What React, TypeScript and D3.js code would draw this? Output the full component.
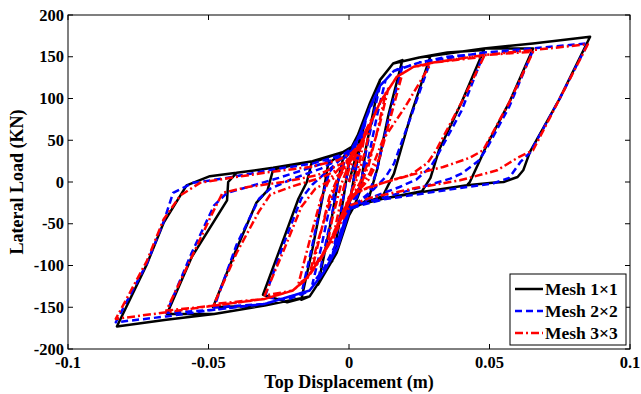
import React from "react";
import * as d3 from "d3";

type Pt = [number, number];

// displacement (m), lateral load (kN)
const mesh1: Pt[] = [
  [0, 0], [0.002, 25], [0.004, 55], [0.006, 80],
  [0.004, 45], [0.002, 10], [0, -30], [-0.003, -65], [-0.006, -95],
  [-0.004, -60], [-0.002, -20], [0, 25], [0.003, 55], [0.0075, 95], [0.011, 122],
  [0.009, 90], [0.006, 40], [0.004, -10], [0.002, -28], [0, -40], [-0.0044, -85], [-0.0093, -113], [-0.011, -123],
  [-0.009, -90], [-0.006, -40], [-0.004, 0], [-0.002, 30], [0.001, 42], [0.004, 62], [0.0075, 95], [0.011, 122], [0.0157, 142], [0.019, 146],
  [0.014, 80], [0.01, 15], [0.007, -20], [0.004, -27], [0.0004, -33], [-0.0044, -85], [-0.0093, -113], [-0.014, -137], [-0.017, -141],
  [-0.013, -80], [-0.0095, -20], [-0.0074, 22], [-0.002, 36], [0.001, 42], [0.004, 62], [0.0075, 95], [0.011, 122], [0.0157, 142], [0.025, 149], [0.029, 151],
  [0.022, 80], [0.016, 10], [0.012, -17], [0.004, -27], [0.0004, -33], [-0.0044, -85], [-0.0093, -113], [-0.014, -137], [-0.022, -144], [-0.0306, -135],
  [-0.024, -75], [-0.018, -20], [-0.015, 0], [-0.0133, 23], [-0.002, 36], [0.001, 42], [0.004, 62], [0.0075, 95], [0.011, 122], [0.0157, 142], [0.025, 149], [0.035, 155], [0.048, 158],
  [0.04, 95], [0.032, 38], [0.029, 5], [0.026, -11], [0.012, -20], [0.004, -27], [0.0004, -33], [-0.0044, -85], [-0.0093, -113], [-0.014, -137], [-0.03, -148], [-0.0484, -150],
  [-0.04, -80], [-0.033, -25], [-0.029, -10], [-0.027, 15], [-0.013, 25], [-0.002, 36], [0.001, 42], [0.004, 62], [0.0075, 95], [0.011, 122], [0.0157, 142], [0.025, 149], [0.048, 160], [0.0655, 160],
  [0.057, 95], [0.049, 44], [0.0466, 26], [0.043, 0], [0.042, -4], [0.026, -12], [0.012, -20], [0.004, -27], [0.0004, -33], [-0.0044, -85], [-0.0093, -113], [-0.014, -137], [-0.03, -148], [-0.048, -158], [-0.0648, -158],
  [-0.056, -90], [-0.0434, -22], [-0.043, 0], [-0.04, 11], [-0.027, 17], [-0.013, 25], [-0.002, 36], [0.001, 42], [0.004, 62], [0.0075, 95], [0.011, 122], [0.0157, 142], [0.025, 149], [0.048, 160], [0.0655, 166], [0.0858, 174],
  [0.075, 100], [0.0644, 36], [0.062, 14], [0.06, 6], [0.055, 0], [0.051, -1], [0.042, -4], [0.026, -12], [0.012, -20], [0.004, -27], [0.0004, -33], [-0.0044, -85], [-0.0093, -113], [-0.014, -137], [-0.03, -148], [-0.048, -158], [-0.065, -165], [-0.0826, -173],
  [-0.072, -99], [-0.066, -49], [-0.0578, -4], [-0.0495, 7], [-0.04, 11], [-0.027, 17], [-0.013, 25], [-0.002, 36], [0.001, 42], [0.004, 62],
];

const mesh2: Pt[] = [
  [0, 0], [0.002, 22], [0.004, 50], [0.006, 75],
  [0.004, 40], [0.002, 8], [0, -28], [-0.003, -60], [-0.006, -90],
  [-0.004, -55], [-0.002, -18], [0, 22], [0.003, 50], [0.0075, 88], [0.011, 115],
  [0.009, 85], [0.006, 35], [0.004, -8], [0.002, -25], [0, -36], [-0.004, -78], [-0.009, -108], [-0.011, -118],
  [-0.009, -85], [-0.006, -38], [-0.004, -2], [-0.002, 28], [0.001, 38], [0.004, 58], [0.0075, 90], [0.011, 115], [0.013, 122],
  [0.01, 80], [0.007, 30], [0.004, -5], [0.001, -25], [-0.004, -70], [-0.009, -104], [-0.013, -122],
  [-0.01, -80], [-0.007, -32], [-0.004, 0], [-0.001, 30], [0.002, 42], [0.005, 66], [0.0075, 90], [0.011, 115], [0.016, 133], [0.019, 138],
  [0.014, 75], [0.01, 15], [0.007, -15], [0.004, -25], [0.0004, -31], [-0.004, -78], [-0.009, -108], [-0.014, -130], [-0.017, -135],
  [-0.013, -75], [-0.0095, -18], [-0.007, 12], [-0.002, 32], [0.001, 38], [0.004, 58], [0.0075, 90], [0.011, 115], [0.016, 133], [0.025, 143], [0.029, 145],
  [0.022, 78], [0.016, 22], [0.013, 6], [0.009, -8], [0.004, -22], [0.0004, -31], [-0.004, -78], [-0.009, -108], [-0.014, -130], [-0.022, -141], [-0.03, -138],
  [-0.023, -72], [-0.017, -20], [-0.013, -3], [-0.008, 12], [-0.002, 30], [0.001, 38], [0.004, 58], [0.0075, 90], [0.011, 115], [0.016, 133], [0.025, 143], [0.035, 150], [0.048, 154],
  [0.04, 85], [0.032, 35], [0.029, 18], [0.024, 3], [0.018, -6], [0.01, -16], [0.004, -25], [0.0004, -31], [-0.004, -78], [-0.009, -108], [-0.014, -130], [-0.03, -146], [-0.048, -150],
  [-0.04, -75], [-0.032, -20], [-0.028, -8], [-0.02, 4], [-0.01, 16], [-0.002, 30], [0.001, 38], [0.004, 58], [0.0075, 90], [0.011, 115], [0.016, 133], [0.025, 143], [0.048, 155], [0.0655, 158],
  [0.057, 90], [0.049, 40], [0.046, 25], [0.04, 10], [0.036, 4], [0.028, -4], [0.0215, -10], [0.012, -19], [0.004, -26], [0.0004, -31], [-0.004, -78], [-0.009, -108], [-0.014, -130], [-0.03, -146], [-0.048, -153], [-0.065, -157],
  [-0.056, -85], [-0.048, -28], [-0.0434, -13], [-0.035, -5], [-0.025, 5], [-0.013, 18], [-0.002, 31], [0.001, 38], [0.004, 58], [0.0075, 90], [0.011, 115], [0.016, 133], [0.025, 143], [0.048, 155], [0.0655, 160], [0.085, 166],
  [0.075, 100], [0.0644, 35], [0.061, 24], [0.057, 5], [0.051, -2], [0.042, -6], [0.026, -14], [0.012, -21], [0.004, -28], [0.0004, -32], [-0.004, -78], [-0.009, -108], [-0.014, -130], [-0.03, -146], [-0.048, -153], [-0.065, -161], [-0.083, -168],
  [-0.072, -98], [-0.066, -48], [-0.0626, -13], [-0.0555, -1], [-0.045, 4], [-0.035, 10], [-0.027, 15], [-0.013, 22], [-0.002, 33], [0.001, 40], [0.004, 58],
];

const mesh3: Pt[] = [
  [0, 0], [0.002, 18], [0.004, 40], [0.006, 62],
  [0.004, 28], [0.002, 0], [0, -22], [-0.003, -45], [-0.006, -72],
  [-0.004, -40], [-0.002, -8], [0, 15], [0.003, 35], [0.006, 62], [0.008, 75],
  [0.006, 40], [0.003, 5], [0, -20], [-0.004, -50], [-0.008, -80],
  [-0.006, -45], [-0.003, -5], [0, 22], [0.005, 50], [0.011, 95], [0.013, 105],
  [0.01, 60], [0.007, 20], [0.004, -5], [0.0004, -22], [-0.005, -60], [-0.01, -90], [-0.013, -103],
  [-0.01, -60], [-0.007, -18], [-0.004, 5], [-0.001, 22], [0.002, 35], [0.005, 50], [0.011, 95], [0.014, 112],
  [0.011, 70], [0.007, 25], [0.004, 0], [0.001, -18], [-0.004, -52], [-0.009, -86], [-0.014, -110],
  [-0.011, -70], [-0.007, -25], [-0.004, 2], [-0.001, 20], [0.002, 33], [0.006, 58], [0.011, 95], [0.017, 126], [0.019, 130],
  [0.015, 80], [0.011, 30], [0.007, 3], [0.003, -12], [0.0004, -22], [-0.005, -60], [-0.01, -90], [-0.015, -115], [-0.018, -122],
  [-0.014, -70], [-0.01, -20], [-0.007, 3], [-0.003, 18], [0, 28], [0.005, 50], [0.011, 95], [0.017, 126], [0.023, 138], [0.029, 141],
  [0.02, 90], [0.012, 50], [0.0075, 11], [0.004, -6], [0, -18], [-0.005, -60], [-0.01, -90], [-0.015, -115], [-0.02, -130], [-0.03, -136],
  [-0.023, -80], [-0.017, -30], [-0.012, -8], [-0.006, 3], [-0.001, 15], [0.001, 30], [0.005, 50], [0.011, 95], [0.017, 126], [0.023, 138], [0.03, 143], [0.048, 150],
  [0.04, 95], [0.031, 38], [0.028, 23], [0.0217, 8], [0.012, -1], [0.003, -12], [0.0004, -22], [-0.005, -60], [-0.01, -90], [-0.015, -115], [-0.02, -130], [-0.03, -140], [-0.048, -146],
  [-0.04, -85], [-0.032, -35], [-0.028, -15], [-0.02, -5], [-0.01, 5], [-0.002, 18], [0.001, 30], [0.005, 50], [0.011, 95], [0.017, 126], [0.023, 138], [0.03, 143], [0.048, 152], [0.0655, 156],
  [0.057, 95], [0.0477, 38], [0.043, 29], [0.0335, 18], [0.018, 5], [0.0064, -7], [0.0004, -18], [-0.005, -60], [-0.01, -90], [-0.015, -115], [-0.02, -130], [-0.03, -140], [-0.048, -148], [-0.065, -154],
  [-0.056, -90], [-0.049, -40], [-0.045, -13], [-0.036, -6], [-0.0235, 0], [-0.0114, 8], [-0.002, 23], [0.001, 32], [0.005, 50], [0.011, 95], [0.017, 126], [0.023, 138], [0.03, 143], [0.048, 152], [0.0655, 158], [0.085, 165],
  [0.075, 100], [0.0655, 38], [0.06, 29], [0.0527, 14], [0.0395, 2], [0.024, -7], [0.0075, -19], [0.0004, -28], [-0.005, -62], [-0.01, -92], [-0.015, -116], [-0.02, -130], [-0.03, -140], [-0.048, -148], [-0.065, -156], [-0.083, -164],
  [-0.072, -95], [-0.066, -45], [-0.06, -16], [-0.053, -1], [-0.042, 5], [-0.028, 12], [-0.014, 18], [-0.004, 26], [0.001, 35], [0.005, 50],
];

const seriesNames = ["Mesh 1\u00d71", "Mesh 2\u00d72", "Mesh 3\u00d73"];
const xTicks = [-0.1, -0.05, 0, 0.05, 0.1];
const xTickLabels = ["-0.1", "-0.05", "0", "0.05", "0.1"];
const yTicks = [-200, -150, -100, -50, 0, 50, 100, 150, 200];

const W = 641;
const H = 394;
const m = { left: 68, right: 11, top: 15, bottom: 45 };
const font = "'Liberation Serif', 'Times New Roman', serif";

const styles = [
  { color: "#000000", dash: undefined as string | undefined },
  { color: "#0000ff", dash: "7,4" },
  { color: "#ff0000", dash: "8,3,2,3" },
];

export default function App() {
  const x = d3.scaleLinear().domain([-0.1, 0.1]).range([m.left, W - m.right]);
  const y = d3.scaleLinear().domain([-200, 200]).range([H - m.bottom, m.top]);
  const line = d3
    .line<Pt>()
    .x((d) => x(d[0]))
    .y((d) => y(d[1]));

  const data = [mesh1, mesh2, mesh3];
  const x0 = m.left;
  const x1 = W - m.right;
  const y0 = m.top;
  const y1 = H - m.bottom;
  const tk = 5;

  // legend box
  const lg = { x: 510, y: 274, w: 116, h: 71 };

  return (
    <svg
      width={W}
      height={H}
      style={{ position: "absolute", left: 0, top: 0, background: "#fff" }}
      fontFamily={font}
      fontWeight="bold"
    >
      <rect x={0} y={0} width={W} height={H} fill="#fff" />
      {data.map((d, i) => (
        <path
          key={i}
          d={line(d) || ""}
          fill="none"
          stroke={styles[i].color}
          strokeWidth={2.5}
          strokeDasharray={styles[i].dash}
          strokeLinejoin="round"
        />
      ))}

      {/* frame */}
      <rect x={x0} y={y0} width={x1 - x0} height={y1 - y0} fill="none" stroke="#000" strokeWidth={1} />

      {xTicks.map((t, i) => (
        <g key={"x" + i}>
          <line x1={x(t)} x2={x(t)} y1={y1} y2={y1 - tk} stroke="#000" />
          <line x1={x(t)} x2={x(t)} y1={y0} y2={y0 + tk} stroke="#000" />
          <text x={x(t)} y={368} textAnchor="middle" fontSize={16.5} fontWeight="bold">
            {xTickLabels[i]}
          </text>
        </g>
      ))}
      {yTicks.map((t) => (
        <g key={"y" + t}>
          <line x1={x0} x2={x0 + tk} y1={y(t)} y2={y(t)} stroke="#000" />
          <line x1={x1} x2={x1 - tk} y1={y(t)} y2={y(t)} stroke="#000" />
          <text x={64} y={y(t) + 5.5} textAnchor="end" fontSize={16.5} fontWeight="bold">
            {t}
          </text>
        </g>
      ))}

      <text x={(x0 + x1) / 2} y={388} textAnchor="middle" fontSize={18} fontWeight="bold">
        Top Displacement (m)
      </text>
      <text
        transform={`translate(23,${(y0 + y1) / 2}) rotate(-90)`}
        textAnchor="middle"
        fontSize={18}
        fontWeight="bold"
      >
        Lateral Load (KN)
      </text>

      <rect x={lg.x} y={lg.y} width={lg.w} height={lg.h} fill="#fff" stroke="#000" strokeWidth={1} />
      {seriesNames.map((n, i) => {
        const ly = lg.y + 15 + i * 22;
        return (
          <g key={n}>
            <line
              x1={lg.x + 5}
              x2={lg.x + 33}
              y1={ly}
              y2={ly}
              stroke={styles[i].color}
              strokeWidth={2.5}
              strokeDasharray={styles[i].dash}
            />
            <text x={lg.x + 35} y={ly + 6} fontSize={17.5} fontWeight="bold">
              {n}
            </text>
          </g>
        );
      })}
    </svg>
  );
}
